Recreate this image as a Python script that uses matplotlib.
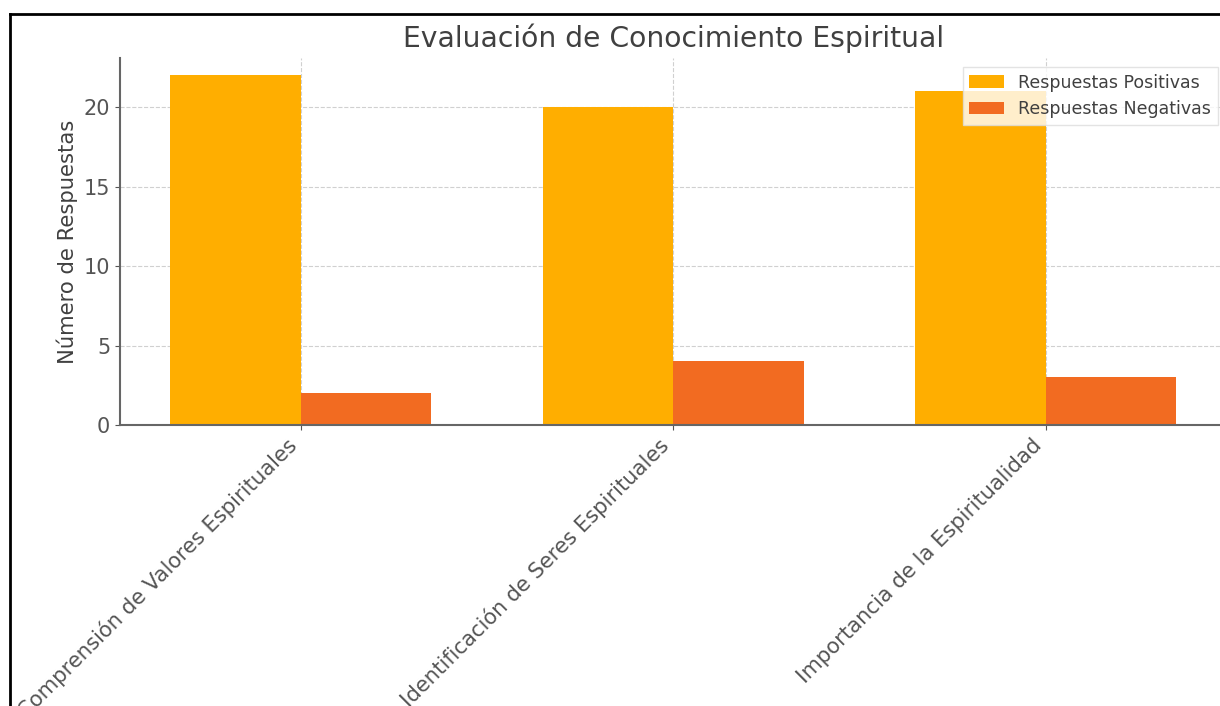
import matplotlib
matplotlib.use("Agg")
import matplotlib.pyplot as plt
import numpy as np

categorias = ['Comprensión de Valores Espirituales',
              'Identificación de Seres Espirituales',
              'Importancia de la Espiritualidad']
positivas = [22, 20, 21]
negativas = [2, 4, 3]

texto = '#404040'
plt.rcParams['font.family'] = ['DejaVu Sans']

fig = plt.figure(figsize=(12.2, 7.06), dpi=100)
ax = fig.add_axes([0.0984, 0.398, 0.907, 0.520])

index = np.arange(len(categorias))
bar_width = 0.35
ax.bar(index, positivas, bar_width, color='#FFAE00', label='Respuestas Positivas', zorder=2)
ax.bar(index + bar_width, negativas, bar_width, color='#F26B21', label='Respuestas Negativas', zorder=2)

ax.set_title('Evaluación de Conocimiento Espiritual', fontsize=20.3, color=texto, pad=8)
ax.set_ylabel('Número de Respuestas', fontsize=15.2, color=texto)
ax.set_xticks(index + bar_width / 2)
ax.set_xticklabels(categorias, rotation=45, ha='right', fontsize=15.2, color=texto)
ax.tick_params(axis='y', labelsize=15, labelcolor=texto)
ax.tick_params(colors='#555555')
ax.set_yticks([0, 5, 10, 15, 20])

for s in ['top', 'right']:
    ax.spines[s].set_visible(False)
for s in ['left', 'bottom']:
    ax.spines[s].set_color('#666666')
    ax.spines[s].set_linewidth(1.5)

ax.grid(True, linestyle='--', color='#d0d0d0', linewidth=0.8, zorder=0)
ax.set_axisbelow(True)

leg = ax.legend(loc='upper right', fontsize=12.5, fancybox=False, framealpha=0.8,
                edgecolor='#dddddd')
for t in leg.get_texts():
    t.set_color(texto)

# marco de la captura
fig.add_artist(plt.Line2D([0.0082, 1.0], [0.980, 0.980], color='black', linewidth=2))
fig.add_artist(plt.Line2D([0.0082, 0.0082], [0.0, 0.980], color='black', linewidth=2))

fig.savefig('out.png', dpi=100)
